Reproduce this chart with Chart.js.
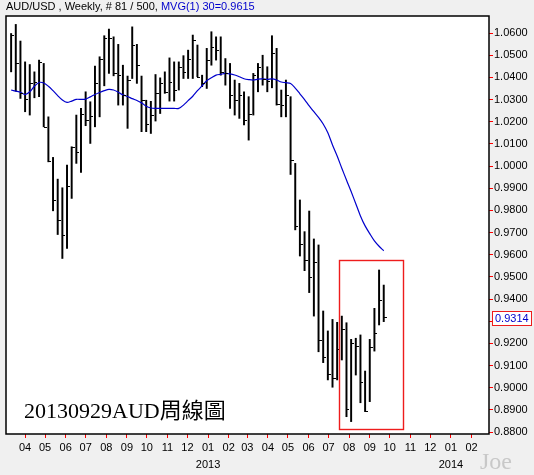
<!DOCTYPE html>
<html>
<head>
<meta charset="utf-8">
<script src="https://cdn.jsdelivr.net/npm/chart.js@4.4.1/dist/chart.umd.min.js"></script>
<style>
  html, body { margin: 0; padding: 0; background: #f0f0f0; }
  #wrap { width: 534px; height: 475px; }
</style>
</head>
<body>
<div id="wrap"><canvas id="c" width="534" height="475"></canvas></div>
<script>
// weekly AUD/USD bars (week 0 = week of 2012-03-11)
const highs = [1.0598,1.0639,1.0564,1.0470,1.0458,1.0425,1.0478,1.0463,1.0222,1.0039,0.9941,0.9902,1.0004,1.0087,1.0230,1.0260,1.0335,1.0290,1.0451,1.0493,
  1.0588,1.0618,1.0583,1.0549,1.0455,1.0406,1.0628,1.0549,1.0406,1.0297,1.0292,1.0413,1.0398,1.0425,1.0488,1.0470,1.0470,1.0498,1.0523,1.0591,
  1.0546,1.0410,1.0531,1.0606,1.0583,1.0583,1.0485,1.0463,1.0388,1.0373,1.0335,1.0313,1.0418,1.0463,1.0500,1.0448,1.0588,1.0531,1.0343,1.0388,
  1.0313,1.0012,0.9847,0.9704,0.9797,0.9671,0.9644,0.9346,0.9256,0.9308,0.9295,0.9323,0.9293,0.9218,0.9223,0.9238,0.9075,0.9218,0.9358,0.9531,0.9463];
const lows = [1.0425,1.0338,1.0305,1.0245,1.0230,1.0308,1.0313,1.0177,1.0019,0.9798,0.9691,0.9583,0.9628,0.9854,1.0012,0.9971,1.0182,1.0102,1.0177,1.0222,
  1.0362,1.0418,1.0407,1.0275,1.0275,1.0170,1.0395,1.0373,1.0155,1.0155,1.0147,1.0203,1.0237,1.0328,1.0293,1.0293,1.0343,1.0395,1.0395,1.0395,
  1.0403,1.0358,1.0350,1.0455,1.0478,1.0410,1.0365,1.0260,1.0230,1.0215,1.0185,1.0117,1.0230,1.0335,1.0365,1.0335,1.0353,1.0275,1.0222,1.0222,
  0.9962,0.9712,0.9594,0.9528,0.9429,0.9323,0.9162,0.9113,0.9035,0.9002,0.9035,0.9125,0.8869,0.8847,0.9057,0.8932,0.8892,0.8937,0.9165,0.9283,0.9298];
const closes = [1.0591,1.0463,1.0328,1.0302,1.0373,1.0380,1.0470,1.0177,1.0022,0.9846,0.9756,0.9688,0.9909,1.0087,1.0064,1.0233,1.0207,1.0227,1.0373,1.0485,
  1.0576,1.0576,1.0418,1.0410,1.0320,1.0388,1.0546,1.0458,1.0298,1.0189,1.0230,1.0328,1.0373,1.0335,1.0380,1.0343,1.0448,1.0425,1.0485,1.0568,
  1.0403,1.0373,1.0478,1.0538,1.0523,1.0425,1.0418,1.0320,1.0297,1.0320,1.0207,1.0233,1.0410,1.0448,1.0395,1.0385,1.0508,1.0282,1.0275,1.0320,
  1.0027,0.9729,0.9648,0.9576,0.9498,0.9569,0.9215,0.9137,0.9062,0.9042,0.9173,0.9263,0.8902,0.9200,0.9188,0.9027,0.8896,0.9182,0.9245,0.9396,0.9317];
// 30-week moving average as drawn
const mvg = [1.0343,1.0338,1.0333,1.0322,1.0335,1.0360,1.0377,1.0375,1.0360,1.0340,1.0318,1.0298,1.0287,1.0293,1.0301,1.0301,1.0302,1.0312,1.0323,1.0332,
  1.0340,1.0346,1.0343,1.0333,1.0321,1.0314,1.0304,1.0296,1.0285,1.0270,1.0262,1.0260,1.0260,1.0260,1.0260,1.0260,1.0260,1.0275,1.0295,1.0315,
  1.0340,1.0362,1.0385,1.0398,1.0410,1.0414,1.0418,1.0416,1.0411,1.0403,1.0394,1.0390,1.0388,1.0392,1.0393,1.0391,1.0393,1.0388,1.0379,1.0376,
  1.0372,1.0352,1.0326,1.0300,1.0272,1.0245,1.0220,1.0190,1.0150,1.0095,1.0045,0.9990,0.9937,0.9885,0.9830,0.9775,0.9730,0.9695,0.9662,0.9638,0.9618];
const yTicks = [0.88,0.89,0.90,0.91,0.92,0.93,0.94,0.95,0.96,0.97,0.98,0.99,1.00,1.01,1.02,1.03,1.04,1.05,1.06];
const monthStarts = ['2012-04-01','2012-05-01','2012-06-01','2012-07-01','2012-08-01','2012-09-01','2012-10-01','2012-11-01','2012-12-01',
  '2013-01-01','2013-02-01','2013-03-01','2013-04-01','2013-05-01','2013-06-01','2013-07-01','2013-08-01','2013-09-01','2013-10-01',
  '2013-11-01','2013-12-01','2014-01-01','2014-02-01'];
const week0 = Date.UTC(2012, 2, 11);
const lastPrice = 0.9314;
const boxRange = { x0: 70.5, x1: 84.3, y0: 0.8814, y1: 0.9576 };

const weekOf = (s) => (Date.parse(s + 'T00:00:00Z') - week0) / (7 * 86400000);
const monthTicks = monthStarts.map((s) => ({ value: weekOf(s), label: s.slice(5, 7), year: s.slice(0, 4) }));

const extras = {
  id: 'extras',
  beforeDraw(chart) {
    const { ctx, chartArea: a } = chart;
    ctx.save();
    ctx.fillStyle = '#ffffff';
    ctx.fillRect(a.left, a.top, a.right - a.left, a.bottom - a.top);
    ctx.restore();
  },
  afterDatasetsDraw(chart) {
    const { ctx, chartArea: a, scales: { x, y } } = chart;
    ctx.save();
    // close ticks
    ctx.strokeStyle = '#000';
    ctx.lineWidth = 1;
    closes.forEach((c, i) => {
      const px = Math.round(x.getPixelForValue(i));
      const py = Math.round(y.getPixelForValue(c)) + 0.5;
      ctx.beginPath();
      ctx.moveTo(px, py);
      ctx.lineTo(px + 3, py);
      ctx.stroke();
    });
    // red box
    ctx.strokeStyle = '#ee1c1c';
    ctx.lineWidth = 1.4;
    const bx0 = x.getPixelForValue(boxRange.x0), bx1 = x.getPixelForValue(boxRange.x1);
    const by0 = y.getPixelForValue(boxRange.y1), by1 = y.getPixelForValue(boxRange.y0);
    ctx.strokeRect(Math.round(bx0) + 0.5, Math.round(by0) + 0.5, Math.round(bx1 - bx0), Math.round(by1 - by0));
    // frame
    ctx.strokeStyle = '#000';
    ctx.lineWidth = 1.5;
    ctx.strokeRect(a.left, a.top, a.right - a.left, a.bottom - a.top);
    // annotation
    ctx.fillStyle = '#000';
    ctx.font = '22px "Liberation Serif", "Noto Sans CJK TC", serif';
    ctx.textBaseline = 'alphabetic';
    ctx.fillText('20130929AUD周線圖', 24, 418);
    // title
    ctx.font = '11px "Liberation Sans", Arial, sans-serif';
    ctx.textBaseline = 'middle';
    const t1 = 'AUD/USD , Weekly, # 81 / 500, ';
    ctx.fillText(t1, 6, 7);
    ctx.fillStyle = '#0000cc';
    ctx.fillText('MVG(1) 30=0.9615', 6 + ctx.measureText(t1).width, 7);
    // last price label
    const ly = y.getPixelForValue(lastPrice);
    ctx.fillStyle = '#ffffff';
    ctx.fillRect(a.right + 3, Math.round(ly) - 7, 40, 15);
    ctx.strokeStyle = '#ee1c1c';
    ctx.lineWidth = 1;
    ctx.strokeRect(a.right + 3.5, Math.round(ly) - 6.5, 39, 14);
    ctx.fillStyle = '#0000cc';
    ctx.fillText(lastPrice.toFixed(4), a.right + 6, ly + 1);
    // year labels
    ctx.fillStyle = '#000';
    ctx.textAlign = 'center';
    monthTicks.filter((t) => t.label === '01').forEach((t) => {
      ctx.fillText(t.year, x.getPixelForValue(t.value), 465);
    });
    ctx.fillStyle = '#c8c8c8';
    ctx.font = '24px "Liberation Serif", serif';
    ctx.fillText('Joe', 496, 463);
    ctx.restore();
  }
};

new Chart(document.getElementById('c'), {
  type: 'bar',
  data: {
    datasets: [
      {
        type: 'line',
        data: mvg.map((v, i) => ({ x: i, y: v })),
        borderColor: '#0000cc',
        borderWidth: 1.2,
        pointRadius: 0,
        tension: 0.3,
        order: 0,
      },
      {
        type: 'bar',
        data: highs.map((h, i) => ({ x: i, y: [lows[i], h] })),
        backgroundColor: '#000',
        barThickness: 1.3,
        order: 1,
      },
    ],
  },
  options: {
    responsive: false,
    animation: false,
    layout: { padding: { top: 16, left: 6, right: 0, bottom: 0 } },
    plugins: { legend: { display: false }, tooltip: { enabled: false } },
    scales: {
      x: {
        type: 'linear',
        min: -1.1,
        max: 102.6,
        offset: false,
        afterBuildTicks: (s) => { s.ticks = monthTicks.map((t) => ({ value: t.value })); },
        afterFit: (s) => { s.height = 41; },
        grid: { drawOnChartArea: false, tickLength: 4, tickColor: '#ff0000', offset: false },
        border: { display: false },
        ticks: {
          color: '#000',
          font: { family: '"Liberation Sans", Arial', size: 11 },
          maxRotation: 0,
          autoSkip: false,
          padding: 3,
          callback: (v) => { const t = monthTicks.find((m) => Math.abs(m.value - v) < 1e-6); return t ? t.label : ''; },
        },
      },
      y: {
        position: 'right',
        min: 0.8791,
        max: 1.0677,
        afterBuildTicks: (s) => { s.ticks = yTicks.map((v) => ({ value: v })); },
        afterFit: (s) => { s.width = 45; },
        grid: { drawOnChartArea: false, tickLength: 4, tickColor: '#ff0000' },
        border: { display: false },
        ticks: {
          color: '#000',
          font: { family: '"Liberation Sans", Arial', size: 11 },
          padding: 1,
          callback: (v) => v.toFixed(4),
        },
      },
    },
  },
  plugins: [extras],
});
</script>
</body>
</html>
